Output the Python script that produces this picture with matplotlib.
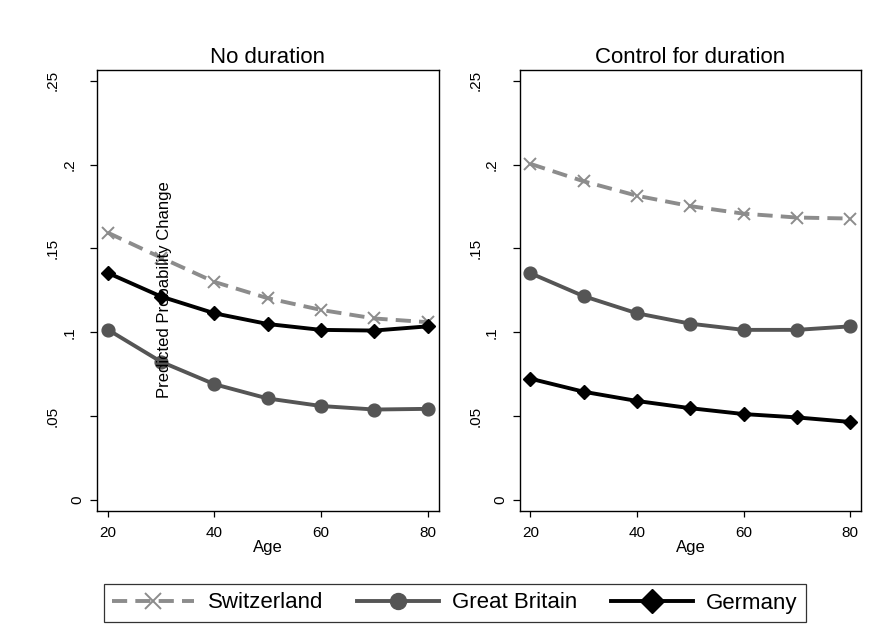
import matplotlib
matplotlib.use("Agg")
import matplotlib.pyplot as plt
import matplotlib.transforms as mtransforms
from matplotlib.lines import Line2D

plt.rcParams['font.family'] = ['Liberation Sans', 'DejaVu Sans']

ages = [20, 30, 40, 50, 60, 70, 80]
panel_titles = ["No duration", "Control for duration"]
countries = ["Switzerland", "Great Britain", "Germany"]

# no duration
swi_nodur = [0.1594, 0.1445, 0.1300, 0.1203, 0.1133, 0.1082, 0.1060]
gbr_nodur = [0.1016, 0.0824, 0.0690, 0.0605, 0.0560, 0.0539, 0.0543]
ger_nodur = [0.1354, 0.1213, 0.1113, 0.1049, 0.1014, 0.1010, 0.1035]

# control for duration
swi_dur = [0.2004, 0.1900, 0.1814, 0.1752, 0.1707, 0.1684, 0.1678]
gbr_dur = [0.1352, 0.1215, 0.1113, 0.1051, 0.1014, 0.1014, 0.1035]
ger_dur = [0.0723, 0.0645, 0.0590, 0.0547, 0.0512, 0.0492, 0.0465]

yticks = [0, 0.05, 0.1, 0.15, 0.2, 0.25]
ytick_labels = ["0", ".05", ".1", ".15", ".2", ".25"]
xticks = [20, 40, 60, 80]

styles = {
    "Switzerland": dict(color="#8c8c8c", ls=(0, (3.9, 2.1)), marker="x", ms=9, mew=1.4, lw=2.8),
    "Great Britain": dict(color="#555555", ls="-", marker="o", ms=9.2, lw=2.8),
    "Germany": dict(color="black", ls="-", marker="D", ms=6.8, lw=2.8),
}
legend_ms = {"Switzerland": 11, "Great Britain": 11.5, "Germany": 12.5}

# stata-like placement of rotated y labels (longer labels sit further out)
char_w = {".": 0.278}


def label_offset_px(s):
    w = sum(char_w.get(c, 0.556) for c in s)
    return 3 + 30 * w


fig = plt.figure(figsize=(8.78, 6.38), dpi=100)
ax1 = fig.add_axes([0.1108, 0.1991, 0.3888, 0.6907])
ax2 = fig.add_axes([0.5923, 0.1991, 0.3884, 0.6907])

panels = [(ax1, [swi_nodur, gbr_nodur, ger_nodur]),
          (ax2, [swi_dur, gbr_dur, ger_dur])]

for (ax, series), title in zip(panels, panel_titles):
    for name, vals in zip(countries, series):
        ax.plot(ages, vals, **styles[name])
    ax.set_xlim(18.05, 82.06)
    ax.set_ylim(-0.0066, 0.2562)
    ax.set_yticks(yticks)
    ax.set_yticklabels([])
    ax.set_xticks(xticks)
    ax.tick_params(axis="x", labelsize=11, length=4.5, width=0.9, pad=6)
    ax.tick_params(axis="y", length=4.8, width=0.9)
    for val, lab in zip(yticks, ytick_labels):
        off = mtransforms.ScaledTranslation(-label_offset_px(lab) / 100, 0, fig.dpi_scale_trans)
        ax.text(0, val, lab, rotation=90, ha="center", va="center", fontsize=11,
                transform=ax.get_yaxis_transform() + off)
    ax.set_xlabel("Age", fontsize=12, labelpad=0)
    ax.set_title(title, fontsize=16, pad=5)
    for sp in ax.spines.values():
        sp.set_linewidth(1.0)

fig.text(165 / 878, 1 - 290 / 638, "Predicted Probability Change",
         rotation=90, ha="center", va="center", fontsize=12)

handles = []
for n in countries:
    h = Line2D([], [], **styles[n])
    h.set_markersize(legend_ms[n])
    handles.append(h)
leg = fig.legend(handles, countries, loc="center", ncol=3,
                 bbox_to_anchor=(455 / 878, 1 - 603 / 638),
                 fontsize=16, frameon=True, fancybox=False,
                 edgecolor="black", handlelength=3.7, columnspacing=1.5,
                 handletextpad=0.6, borderpad=0.38, borderaxespad=0)
leg.get_frame().set_linewidth(0.9)

fig.savefig("out.png", dpi=100, facecolor="white")
